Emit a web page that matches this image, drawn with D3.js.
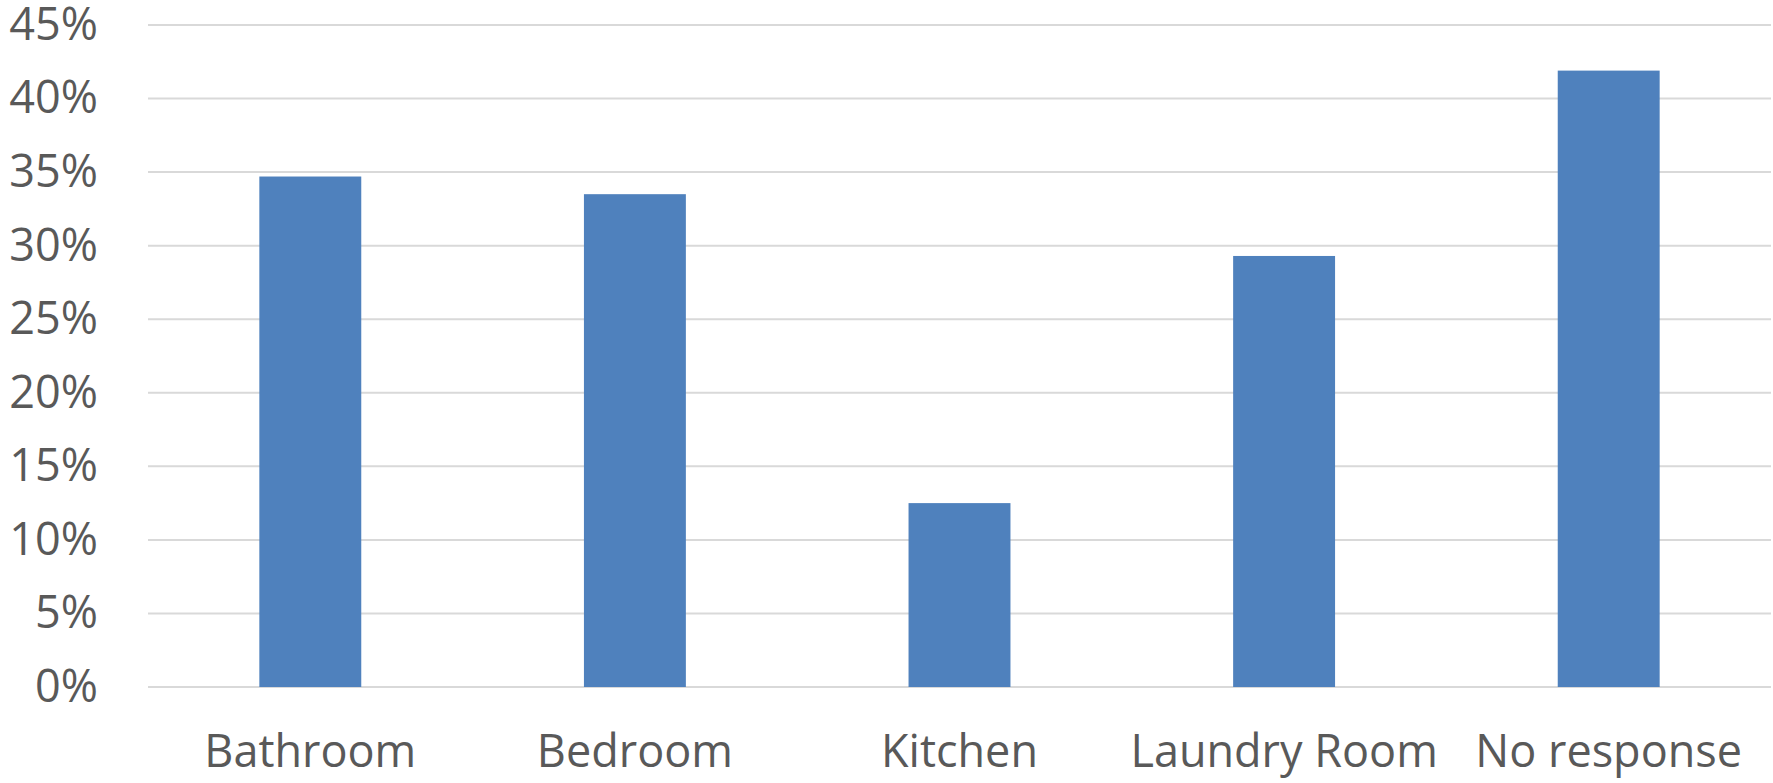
<!DOCTYPE html>
<html>
<head>
<meta charset="utf-8">
<script src="https://cdn.jsdelivr.net/npm/d3@7.9.0/dist/d3.min.js"></script>
<style>
  html, body { margin: 0; padding: 0; background: #fff; }
  svg { display: block; }
  .tick text { fill: #595959; font-family: "Open Sans", "Liberation Sans", sans-serif; }
</style>
</head>
<body>
<div id="chart"></div>
<script>
// data
const categories = ["Bathroom", "Bedroom", "Kitchen", "Laundry Room", "No response"];
const values = [0.347, 0.335, 0.125, 0.293, 0.419];
const yTicks = [0, 0.05, 0.1, 0.15, 0.2, 0.25, 0.3, 0.35, 0.4, 0.45];

// config
const width = 1773,
  height = 783;
const margin = { top: 25, right: 2, bottom: 96, left: 148 };

const svg = d3
  .select("#chart")
  .append("svg")
  .attr("width", width)
  .attr("height", height);

const x = d3
  .scaleBand()
  .domain(categories)
  .range([margin.left, width - margin.right])
  .paddingInner(0.686)
  .paddingOuter(0.343);

const y = d3
  .scaleLinear()
  .domain([0, 0.45])
  .range([height - margin.bottom, margin.top]);

// gridlines
svg
  .append("g")
  .selectAll("line")
  .data(yTicks)
  .join("line")
  .attr("x1", margin.left)
  .attr("x2", width - margin.right)
  .attr("y1", (d) => y(d))
  .attr("y2", (d) => y(d))
  .attr("stroke", "#d9d9d9")
  .attr("stroke-width", 2);

// y axis labels
const yAxis = svg
  .append("g")
  .attr("transform", `translate(${margin.left - 50},0)`)
  .call(d3.axisLeft(y).tickValues(yTicks).tickFormat(d3.format(".0%")).tickSize(0).tickPadding(0));
yAxis.select(".domain").remove();
yAxis.selectAll("text").style("font-size", "45px");

// bars
svg
  .append("g")
  .selectAll("rect")
  .data(values)
  .join("rect")
  .attr("x", (d, i) => x(categories[i]))
  .attr("width", x.bandwidth())
  .attr("y", (d) => y(d))
  .attr("height", (d) => y(0) - y(d))
  .attr("fill", "#4f81bd");

// x axis labels
const xAxis = svg
  .append("g")
  .attr("transform", `translate(0,${height - margin.bottom})`)
  .call(d3.axisBottom(x).tickSize(0).tickPadding(48));
xAxis.select(".domain").remove();
xAxis.selectAll("text").style("font-size", "45px");
</script>
</body>
</html>
